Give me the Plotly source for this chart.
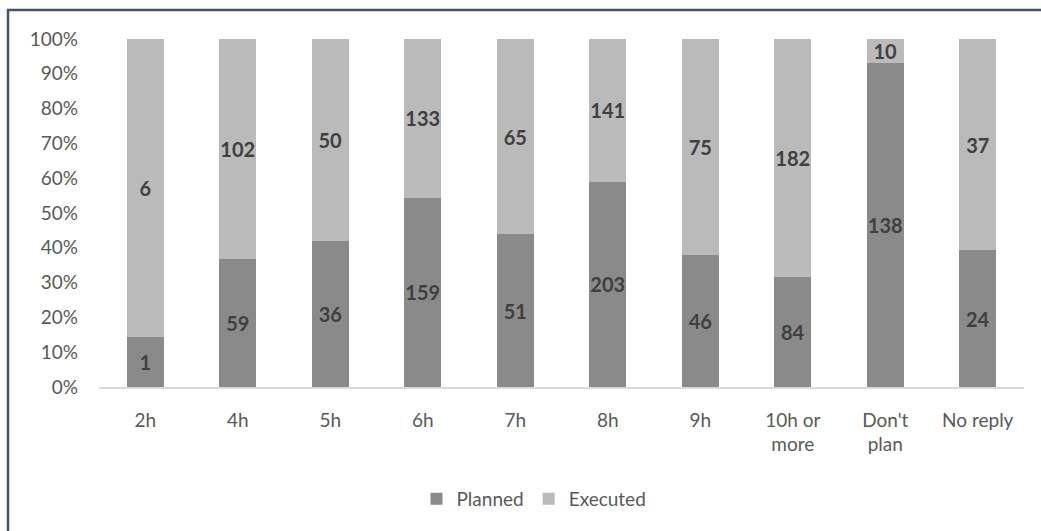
import plotly.graph_objects as go

categories = ["2h", "4h", "5h", "6h", "7h", "8h", "9h", "10h or<br>more", "Don't<br>plan", "No reply"]
planned = [1, 59, 36, 159, 51, 203, 46, 84, 138, 24]
executed = [6, 102, 50, 133, 65, 141, 75, 182, 10, 37]

FONT = "Lato, Carlito, 'Liberation Sans', sans-serif"
W, H = 1041, 531
L, R, T, B = 99, 17, 39, 144
pw, ph = W - L - R, H - T - B

def px_x(x):
    return (x - L) / pw

def px_y(y):
    return (H - B - y) / ph

fig = go.Figure()
fig.add_trace(go.Bar(
    name="Planned", x=categories, y=planned, text=planned,
    marker=dict(color="#8a8a8a", line=dict(width=0)),
    textposition="inside", insidetextanchor="middle", textangle=0,
    constraintext="none",
    textfont=dict(family=FONT, size=20, color="#404040", weight="bold"),
))
fig.add_trace(go.Bar(
    name="Executed", x=categories, y=executed, text=executed,
    marker=dict(color="#bababa", line=dict(width=0)),
    textposition="inside", insidetextanchor="middle", textangle=0,
    constraintext="none",
    textfont=dict(family=FONT, size=20, color="#404040", weight="bold"),
))

fig.update_layout(
    width=W, height=H,
    barmode="stack", barnorm="percent", bargap=0.6,
    margin=dict(l=L, r=R, t=T, b=B, pad=0, autoexpand=False),
    paper_bgcolor="white", plot_bgcolor="white",
    font=dict(family=FONT, size=18, color="#595959"),
    showlegend=True,
    legend=dict(orientation="h", x=px_x(534), xanchor="center",
                yref="container", y=(H - 499) / H, yanchor="middle",
                font=dict(family=FONT, size=19, color="#595959"),
                itemwidth=30, traceorder="normal"),
    xaxis=dict(showgrid=False, showline=True, linecolor="#d9d9d9", linewidth=1.5,
               ticks="", tickfont=dict(family=FONT, size=19, color="#595959"),
               ticklabelstandoff=15),
    yaxis=dict(range=[0, 100], dtick=10, ticksuffix="%", showgrid=False,
               zeroline=False, showline=False, ticks="",
               tickfont=dict(family=FONT, size=19, color="#595959"),
               ticklabelstandoff=20),
    shapes=[dict(type="path", xref="paper", yref="paper",
                 path=f"M {px_x(8)},{px_y(H)} L {px_x(8)},{px_y(10)} L {px_x(W)},{px_y(10)}",
                 line=dict(color="#44546a", width=2.5))],
)

fig.write_html("out.html")
